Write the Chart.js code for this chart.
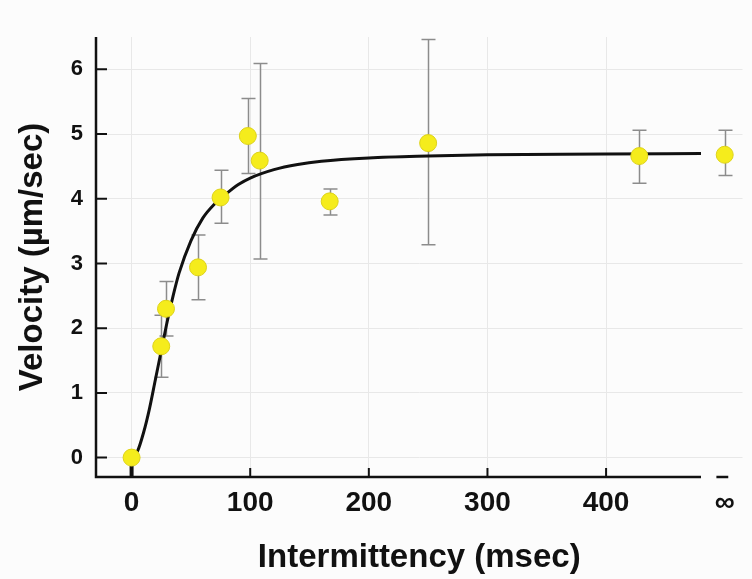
<!DOCTYPE html>
<html>
<head>
<meta charset="utf-8">
<script src="https://cdn.jsdelivr.net/npm/chart.js@4"></script>
<style>
  html, body { margin: 0; padding: 0; background: #fcfcfc; }
  #wrap { width: 752px; height: 579px; }
</style>
</head>
<body>
<div id="wrap"><canvas id="velocity-chart" width="752" height="579"></canvas></div>
<script>
// ── data ──
const pointX   = [0, 25, 29, 56, 75, 98, 108, 167, 250, 428, 500];   // 500 = ∞
const pointY   = [0, 1.72, 2.30, 2.94, 4.02, 4.97, 4.59, 3.96, 4.86, 4.66, 4.68];
const errUp    = [0, 0.48, 0.42, 0.50, 0.42, 0.58, 1.50, 0.19, 1.60, 0.40, 0.38];
const errDown  = [0, 0.48, 0.42, 0.50, 0.40, 0.58, 1.52, 0.21, 1.57, 0.42, 0.32];

// fitted curve
const curveX = [0, 5, 10, 15, 20, 25, 30, 35, 40, 50, 60, 70, 80, 90, 100, 120, 140, 160, 200, 250, 300, 400, 480];
const curveY = [0, 0.1, 0.38, 0.75, 1.2, 1.65, 2.1, 2.5, 2.85, 3.35, 3.7, 3.92, 4.08, 4.22, 4.32, 4.45, 4.53, 4.58, 4.63, 4.66, 4.68, 4.69, 4.7];

const xTicks = [0, 100, 200, 300, 400, 500];
const xTickLabels = ['0', '100', '200', '300', '400', '∞'];
const yTicks = [0, 1, 2, 3, 4, 5, 6];

const FONT = '"Liberation Sans", Arial, Helvetica, sans-serif';

// axes, tick marks and error bars drawn under the datasets
const axesPlugin = {
  id: 'axesAndErrors',
  beforeDatasetsDraw(chart) {
    const { ctx, chartArea: a, scales: { x, y } } = chart;
    ctx.save();

    // error bars
    ctx.strokeStyle = '#8c8c8c';
    ctx.lineWidth = 1.5;
    pointX.forEach((v, i) => {
      if (!errUp[i] && !errDown[i]) return;
      const px = Math.round(x.getPixelForValue(v)) + 0.5;
      const top = y.getPixelForValue(pointY[i] + errUp[i]);
      const bot = y.getPixelForValue(pointY[i] - errDown[i]);
      ctx.beginPath();
      ctx.moveTo(px, top); ctx.lineTo(px, bot);
      ctx.moveTo(px - 7, top); ctx.lineTo(px + 7, top);
      ctx.moveTo(px - 7, bot); ctx.lineTo(px + 7, bot);
      ctx.stroke();
    });

    // axis lines (x axis broken before ∞)
    ctx.strokeStyle = '#111';
    ctx.lineWidth = 2.5;
    const y0 = a.bottom;
    ctx.beginPath();
    ctx.moveTo(a.left, a.top); ctx.lineTo(a.left, y0);
    ctx.lineTo(x.getPixelForValue(480), y0);
    ctx.moveTo(x.getPixelForValue(493), y0); ctx.lineTo(x.getPixelForValue(503), y0);
    ctx.stroke();

    // inward tick marks
    ctx.lineWidth = 2;
    ctx.beginPath();
    yTicks.forEach(v => {
      const py = y.getPixelForValue(v);
      ctx.moveTo(a.left, py); ctx.lineTo(a.left + 11, py);
    });
    xTicks.slice(1, 5).forEach(v => {
      const px = x.getPixelForValue(v);
      ctx.moveTo(px, y0); ctx.lineTo(px, y0 - 9);
    });
    ctx.stroke();
    ctx.lineWidth = 4;
    ctx.beginPath();
    ctx.moveTo(x.getPixelForValue(0), y0); ctx.lineTo(x.getPixelForValue(0), y0 - 11);
    ctx.stroke();

    ctx.restore();
  }
};

new Chart(document.getElementById('velocity-chart'), {
  type: 'scatter',
  data: {
    datasets: [
      {
        type: 'scatter',
        data: pointX.map((v, i) => ({ x: v, y: pointY[i] })),
        pointRadius: 8.5,
        pointHoverRadius: 8.5,
        backgroundColor: '#f5ec1c',
        borderColor: '#ddd21a',
        borderWidth: 1,
        order: 0,
      },
      {
        type: 'line',
        data: curveX.map((v, i) => ({ x: v, y: curveY[i] })),
        borderColor: '#111',
        borderWidth: 3,
        pointRadius: 0,
        cubicInterpolationMode: 'monotone',
        fill: false,
        order: 1,
      }
    ]
  },
  options: {
    responsive: false,
    animation: false,
    events: [],
    layout: { padding: { top: 37, right: 9, left: 0, bottom: 0 } },
    plugins: { legend: { display: false }, tooltip: { enabled: false } },
    scales: {
      x: {
        type: 'linear',
        min: -30, max: 515,
        afterBuildTicks: s => { s.ticks = xTicks.map(v => ({ value: v })); },
        afterFit: s => { s.height = 102; },
        ticks: {
          autoSkip: false,
          maxRotation: 0,
          padding: 9,
          color: '#111',
          font: { family: FONT, size: 28, weight: 'bold' },
          callback: (v) => xTickLabels[xTicks.indexOf(v)] ?? '',
        },
        grid: {
          drawTicks: false,
          color: c => (c.tick && c.tick.value === 500) ? 'rgba(0,0,0,0)' : '#e8e8e8',
          lineWidth: 1,
        },
        border: { display: false },
        title: {
          display: true,
          text: 'Intermittency (msec)',
          color: '#111',
          padding: { top: 0, bottom: 1 },
          font: { family: FONT, size: 33, weight: 'bold' },
        }
      },
      y: {
        type: 'linear',
        min: -0.3, max: 6.5,
        afterBuildTicks: s => { s.ticks = yTicks.map(v => ({ value: v })); },
        afterFit: s => { s.width = 96; },
        ticks: {
          padding: 13,
          color: '#111',
          font: { family: FONT, size: 22, weight: 'bold' },
        },
        grid: { drawTicks: false, color: '#e8e8e8', lineWidth: 1 },
        border: { display: false },
        title: {
          display: true,
          text: 'Velocity (µm/sec)',
          color: '#111',
          padding: { top: 13, bottom: 0 },
          font: { family: FONT, size: 33, weight: 'bold' },
        }
      }
    }
  },
  plugins: [axesPlugin]
});
</script>
</body>
</html>
